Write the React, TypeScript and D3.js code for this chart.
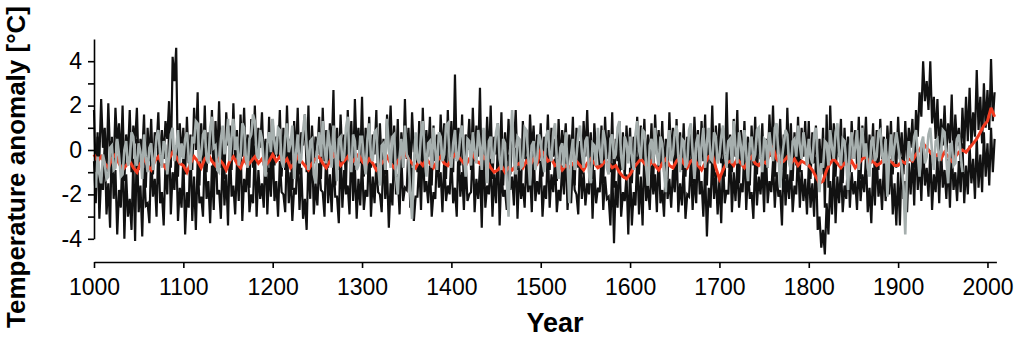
import React, { useEffect, useRef } from "react";
import * as d3 from "d3";

// black and grey series: one value every 2 years from 1000
// red mean curve: one value every 4 years from 1000
const startYear = 1000;
const stepFine = 2;
const stepRed = 4;

// black reconstruction swinging between the upper spikes and the core
const blackA = [
  1.8, -1.3, 0.6, -0.4, 2.3, 0.1, 1.0, -1.0, 2.1, -0.2, 0.4, -0.8, 1.9, 0.2, 1.2, -0.6, 2.0, -1.4, 0.7, -0.3, 1.8, -1.0, 1.1, 0.3, 1.9, -0.9, 0.5, -0.2, 1.6, -1.7, 1.0, -0.5, 1.4, -1.1, 0.8, 0.1, 1.7, -0.7, 0.9, -0.4, 1.3, 0.5, 2.2, -0.8, 4.2, 3.1, 4.6, -1.2, 1.2, -0.3,
  1.0, -1.1, 1.5, -0.6, 0.7, -0.9, 1.9, 0.0, 2.6, -1.6, 1.2, -0.7, 2.0, -1.0, 0.8, -0.2, 1.8, -1.5, 1.3, -0.4, 2.2, -0.8, 0.6, -1.3, 1.7, 0.2, 1.1, -0.9, 2.1, -0.5, 0.9, -1.4, 1.6, -0.3, 1.9, -0.6, 0.7, -1.7, 1.4, -0.8, 2.0, -0.6, 1.0, 0.1, 1.7, -0.7, 0.5, -1.0, 1.5, -1.6,
  1.4, -0.7, 0.6, -0.3, 1.8, -1.2, 1.0, -0.9, 2.0, -0.6, 0.5, -1.8, 1.3, -0.4, 1.9, -1.1, 0.8, 0.2, 1.6, -1.0, 2.0, -1.5, 1.1, -0.6, 0.6, -0.2, 1.5, -1.3, 1.9, -0.5, 0.9, -0.8, 1.2, -0.1, 2.7, -1.6, 1.0, -0.9, 1.6, -0.5, 0.7, -1.7, 1.8, -0.3, 1.3, -1.1, 2.3, 0.0, 1.0, -0.6,
  2.4, -1.2, 1.0, -0.5, 1.5, -0.8, 0.7, -0.2, 1.8, -1.5, 1.2, -0.7, 0.5, -1.1, 1.6, 0.2, 2.0, -0.6, 1.1, -0.9, 1.4, -1.8, 0.8, -0.8, 2.3, -0.4, 1.0, -1.2, 1.7, -0.1, 0.6, -1.0, 1.3, -1.4, 1.9, -0.6, 0.9, -0.3, 1.5, -1.6, 1.1, -0.5, 0.7, -1.0, 1.6, -0.2, 1.2, -1.3, 1.8, -0.7,
  1.3, -1.0, 3.4, -0.4, 1.0, -0.7, 1.6, -1.8, 0.7, 0.0, 1.4, -0.9, 1.9, -0.5, 1.1, -0.3, 2.8, -1.5, 0.9, -0.8, 1.5, -0.6, 2.0, -1.3, 0.6, -0.2, 1.2, -0.7, 1.7, -1.6, 0.8, -0.5, 1.4, -1.1, 1.0, 0.1, 1.8, -0.9, 0.5, -1.7, 1.3, -0.4, 0.9, -1.2, 1.6, -0.1, 1.1, -0.8, 0.7, -0.6,
  1.2, -1.2, 0.6, -0.4, 1.6, -0.9, 1.0, -0.3, 0.5, -1.4, 1.4, -0.7, 0.9, 0.0, 1.2, -1.0, 0.7, -0.5, 1.5, -1.6, 1.0, -0.8, 0.4, -1.1, 1.3, -0.3, 1.8, -0.6, 0.8, -1.3, 1.2, -0.2, 0.6, -0.8, 1.1, -1.5, 1.5, -0.4, 0.9, -1.0, 1.7, -1.7, 0.5, -0.5, 1.3, -0.9, 0.8, -1.3, 1.1, -0.5,
  1.0, -1.5, 0.6, -0.6, 1.5, -1.1, 1.1, -0.4, 1.4, -0.9, 0.7, -0.5, 1.2, -1.4, 1.6, -0.2, 0.9, -0.8, 1.3, -1.0, 0.5, -1.3, 1.7, -0.4, 1.0, -1.7, 1.4, -0.6, 0.8, -0.9, 1.2, -1.2, 0.6, -0.7, 1.1, -1.5, 1.5, -0.2, 0.9, -0.9, 1.3, -0.5, 1.6, -1.6, 0.8, -0.6, 2.0, -1.2, 1.1, -0.4,
  1.2, -0.6, 1.0, -1.2, 2.6, -0.8, 0.7, -1.0, 1.4, -0.3, 1.8, -1.5, 0.9, -0.5, 1.3, -0.9, 0.6, -1.6, 1.1, -0.7, 1.5, -1.1, 0.8, -0.4, 1.2, -1.5, 0.5, -0.8, 1.6, -0.3, 2.0, -1.2, 1.0, -0.2, 1.4, -0.9, 0.7, -1.3, 1.9, -0.5, 1.2, -1.4, 0.8, -0.7, 1.5, -1.0, 1.0, -0.3, 1.3, -0.7,
  1.3, -1.3, 0.8, -0.6, 1.1, -1.4, 0.5, -1.1, 1.0, -2.6, 1.6, -1.7, 2.0, -0.5, 1.2, -1.2, 0.7, -0.3, 1.4, -1.5, 1.0, -0.6, 0.6, -1.0, 1.3, -0.4, 0.9, -0.7, 1.5, -1.3, 1.1, -0.2, 1.5, -1.0, 0.7, -0.6, 1.2, -1.5, 0.9, -0.9, 1.4, -0.4, 0.6, -1.4, 1.1, -0.3, 1.3, -1.1, 0.8, -0.8,
  1.5, -0.4, 0.8, -1.1, 1.3, -0.5, 1.0, 0.1, 1.4, -0.8, 1.8, 0.6, 2.6, 1.5, 4.0, 2.2, 3.1, 1.8, 4.0, 1.2, 2.4, 0.5, 2.3, -0.2, 1.4, 0.2, 2.0, -0.1, 1.2, 0.3, 2.5, -0.6, 1.6, 0.2, 1.0, -0.6, 1.9, 0.0, 2.4, 0.4, 2.8, 0.2, 1.7, 0.6, 3.6, 0.9, 2.4, 0.3, 3.0, 1.0,
  2.7, 0.9, 4.1, 1.3, 2.6,
];

// black reconstruction swinging between the core and the lower spikes
const blackB = [
  -0.5, -2.4, 0.8, -3.1, -1.2, -1.8, 0.3, -2.9, -1.5, -3.5, 0.6, -2.2, -0.9, -3.8, -1.8, -2.6, 0.2, -4.0, -1.1, -3.0, -2.2, -3.6, -0.4, -4.1, 0.5, -2.8, -1.6, -3.9, -0.8, -2.5, -2.4, -3.3, -0.2, -2.1, -1.3, -3.0, 0.4, -2.4, -1.9, -3.4, -0.6, -2.0, 0.9, -2.9, -1.0, -1.8, 0.2, -3.2, -1.7, -2.6,
  -0.3, -3.8, -1.9, -2.6, 0.4, -3.2, -1.2, -3.6, -0.5, -2.4, -2.1, -3.0, 0.1, -2.2, -1.4, -3.3, -0.7, -2.7, 0.6, -2.0, -1.8, -3.1, -0.2, -2.5, -1.1, -3.4, 0.3, -2.1, -1.6, -2.9, -0.6, -2.3, 0.5, -3.2, -1.3, -1.9, -0.4, -2.8, -2.0, -2.4, 0.2, -3.0, -0.9, -2.2, -1.5, -2.6, 0.4, -2.9, -0.8, -2.1,
  0.2, -2.3, -1.4, -3.0, -0.5, -1.9, -2.0, -2.8, 0.4, -2.4, -1.0, -3.2, -1.7, -2.0, 0.1, -2.7, -0.8, -3.1, -2.2, -3.6, -0.3, -2.2, 0.5, -2.9, -1.5, -2.5, -0.6, -1.8, -1.9, -3.0, 0.3, -2.4, -1.1, -2.8, -0.4, -2.1, -2.1, -3.3, 0.2, -2.6, -0.9, -2.0, -1.6, -2.9, 0.4, -2.3, -0.7, -3.1, -1.3, -2.5,
  -0.4, -2.7, -1.8, -2.1, 0.3, -3.0, -1.2, -2.4, -0.6, -1.9, -2.0, -2.8, 0.1, -2.2, -0.9, -3.5, -1.5, -2.5, 0.4, -2.0, -1.1, -2.9, -0.3, -2.3, -1.7, -1.8, 0.2, -2.6, -0.8, -3.2, -2.1, -2.1, -0.5, -2.7, 0.3, -1.9, -1.4, -2.4, -0.7, -3.0, -1.9, -2.2, 0.0, -1.7, -1.0, -2.8, -0.4, -2.3, -1.6, -2.0,
  -0.3, -2.4, -1.7, -3.0, 0.4, -2.1, -1.0, -2.7, -0.5, -2.3, -2.0, -1.9, 0.2, -2.8, -1.3, -2.2, -0.7, -3.5, 0.3, -2.6, -1.6, -2.0, -0.4, -3.0, -1.1, -2.4, 0.5, -3.4, -0.9, -2.1, -1.8, -2.7, -0.2, -1.8, -1.2, -2.5, 0.1, -3.1, -0.8, -2.2, -1.5, -2.6, -0.3, -1.9, -1.0, -2.8, 0.2, -2.3, -1.4, -2.0,
  -0.5, -3.0, -1.6, -2.2, 0.1, -2.6, -1.1, -1.9, -0.4, -2.8, -1.8, -2.3, -0.7, -2.0, 0.2, -2.7, -1.3, -2.4, -0.6, -1.8, -2.0, -2.9, -0.2, -2.2, -1.0, -2.5, -1.5, -2.0, 0.0, -3.1, -0.9, -2.4, -1.7, -1.9, -0.3, -2.7, -1.2, -2.2, -2.1, -3.4, -0.6, -4.2, -1.4, -2.6, 0.0, -3.0, -1.9, -2.3, -1.1, -3.8,
  -0.8, -3.4, -1.9, -2.5, -0.3, -2.9, -1.2, -3.4, 0.1, -2.3, -1.6, -2.7, -0.7, -2.0, -1.1, -2.8, 0.0, -2.4, -1.8, -3.0, -0.5, -2.2, -1.3, -2.6, -0.9, -1.9, 0.2, -2.8, -1.5, -2.5, -0.6, -3.1, -2.0, -2.1, -0.4, -2.7, -1.1, -2.4, 0.0, -2.0, -1.4, -3.0, -0.8, -3.9, -1.7, -2.6, -0.2, -2.2, -1.0, -2.9,
  -1.3, -3.3, -0.4, -2.4, -1.8, -2.0, 0.0, -2.8, -1.0, -2.3, -0.6, -2.6, -1.5, -1.9, 0.2, -2.7, -0.9, -2.2, -1.9, -3.1, -0.3, -2.5, -1.2, -2.0, -0.7, -2.8, 0.1, -2.4, -1.4, -1.9, -0.5, -2.6, -1.0, -2.1, -1.8, -3.4, -0.2, -2.5, -1.1, -2.2, -0.6, -2.8, -1.6, -2.0, 0.0, -2.6, -0.9, -2.3, -1.3, -2.9,
  -0.7, -2.6, -1.5, -3.0, -0.3, -3.6, -3.0, -4.4, -3.6, -4.7, -2.4, -3.8, -1.4, -2.9, -0.4, -3.3, -1.2, -2.4, -0.7, -2.8, -1.6, -2.2, -0.2, -2.6, -1.0, -2.0, -1.4, -2.7, -0.5, -2.3, -1.1, -1.9, -0.3, -2.8, -1.7, -3.3, -0.8, -2.5, -0.2, -2.1, -1.3, -2.7, -0.6, -2.3, -1.0, -2.0, -0.4, -2.9, -1.5, -3.4,
  -1.0, -3.4, -0.3, -2.2, -1.4, -2.8, -0.6, -2.0, -0.2, -2.5, 0.5, -1.8, -0.4, -2.3, 0.3, -1.6, -0.8, -2.1, 0.0, -2.7, -1.1, -1.9, -0.3, -2.4, 0.2, -1.7, -0.9, -2.2, -0.4, -2.6, 0.1, -1.8, -1.0, -2.3, -0.5, -1.9, 0.3, -2.4, -0.7, -2.0, 0.2, -1.5, -0.4, -2.2, 0.6, -1.7, -0.2, -1.9, 0.8, -1.2,
  0.3, -1.6, 1.0, -1.0, 0.5,
];

// grey reconstruction (ends 1972)
const grey = [
  -1.0, -1.7, -0.3, -1.1, -1.5, -0.2, -0.6, -1.3, -1.2, 0.1, 0.2, -0.9, -0.8, 0.5, -0.2, -1.2, -1.1, 0.0, 0.4, -0.7, -0.5, 0.8, 0.6, -0.4, -0.7, 0.3, -0.1, -1.3, 0.7, -0.3, -1.0, 0.1, 0.3, -0.9, -0.4, 0.6, 0.9, -0.2, -0.8, 0.4, 0.2, -1.1, -0.3, 0.7, 1.0, -0.5, 0.1, 0.9, -0.6, 0.3,
  -0.4, 0.5, 0.8, -0.3, -0.9, 0.6, 0.3, 1.3, 1.2, -0.5, -0.2, 0.7, 0.9, -0.4, -0.6, 1.0, 1.5, 0.1, 0.2, -0.9, -1.0, 0.5, 1.1, -0.2, 0.4, 1.4, -0.5, 0.6, 1.4, 0.0, 0.6, -0.7, -0.3, 1.2, 1.0, -0.4, -0.8, 0.5, 0.7, 1.6, 1.3, -0.2, -0.4, 0.9, 0.5, -0.6, -1.2, 0.3, 0.8, -0.1,
  1.4, 0.3, -0.2, 1.0, 0.9, -0.5, -0.8, 0.6, 1.2, -0.1, 0.3, 1.1, -1.3, -0.2, 0.7, -0.6, -0.4, 0.9, 1.6, 0.2, -0.9, 0.4, 0.5, -1.1, -1.5, 0.2, 0.8, -0.3, 1.3, 0.1, -0.6, 0.9, 0.2, -0.8, 1.1, 0.0, -1.4, 0.5, 0.6, -0.5, -0.3, 1.0, 1.5, -0.4, -1.0, 0.7, 0.4, -0.9, -0.7, 0.6,
  0.6, -0.4, -1.1, 0.5, 1.2, -0.3, -0.5, 0.8, 0.9, -0.7, -1.6, 0.2, 0.3, -0.9, 1.4, 0.1, -0.8, 0.6, 0.7, -1.2, -2.0, -0.3, 0.5, -0.8, 1.1, -0.2, -0.4, -1.9, -3.1, -0.6, 0.8, -0.4, -0.6, 0.7, 1.3, -0.1, -1.2, 0.3, 0.4, -0.8, 1.0, 0.0, -0.9, 0.8, 0.6, -0.5, -0.2, 1.1, 1.2, -0.3,
  -0.8, 0.3, 0.9, -0.5, -0.3, 0.7, 1.1, -0.2, -1.2, 0.5, 0.4, -0.7, 0.8, -0.1, -0.6, 0.9, 0.2, -0.9, 1.0, 0.0, -1.5, 0.4, 0.6, -0.6, -0.2, 0.8, 1.2, -0.4, -0.9, 0.5, 0.3, -1.4, -3.0, 0.2, 1.8, -0.5, -1.1, 0.6, 0.5, -0.8, -0.7, 1.0, 0.9, -0.3, -1.6, 0.2, 0.4, -0.9, -0.4, 0.7,
  0.4, -0.5, -1.0, 0.6, 0.9, -0.2, -0.5, 0.8, 1.2, -0.4, -1.3, 0.1, 0.3, -0.8, 0.8, -0.6, -2.4, -0.2, 0.5, -0.9, -0.3, 0.7, 1.1, -0.1, -0.8, 0.4, 0.6, -1.0, -1.5, 0.3, 0.2, -0.7, 1.0, 0.0, -0.6, 0.9, 0.4, -0.8, -1.1, 0.5, 0.7, -0.4, -0.2, 1.0, 1.3, -0.3, -0.9, 0.6, 0.3, -0.6,
  0.6, -0.3, -0.9, 0.7, 1.3, 0.0, -0.4, 0.9, 0.8, -0.8, -1.6, 0.2, 0.5, -0.6, 1.0, -0.2, -0.7, 0.6, 0.3, -1.0, -1.9, 0.1, 0.9, -0.5, -0.2, 0.8, 1.1, -0.3, -1.0, 0.5, 0.4, -0.8, -0.6, 0.9, 1.2, -0.1, -1.3, 0.3, 0.7, -0.7, 0.2, 1.0, -0.8, 0.4, 1.0, -0.4, -0.5, 0.8, 0.6, -0.6,
  -0.3, 0.6, 1.1, -0.2, -0.8, 0.4, 0.5, -0.6, 1.3, 0.1, -0.6, 0.8, 0.2, -0.7, 0.9, -0.1, -1.4, 0.3, 0.6, -0.5, -0.2, 0.9, 1.0, -0.3, -1.0, 0.5, 0.4, -0.8, 0.8, 0.0, -0.5, 1.0, 1.2, -0.2, -1.7, -0.4, 0.3, 0.9, 0.7, -0.6, -0.9, 0.4, 0.5, -0.3, 1.1, 0.2, -0.4, 0.8, 0.2, -0.7,
  0.5, -0.3, -0.6, 0.7, 1.0, -0.5, -1.9, -0.6, -0.8, 0.4, 0.3, -0.7, 0.9, 0.1, -0.4, 0.8, 1.2, -0.2, -0.7, 0.5, 0.4, -0.6, -1.8, 0.2, 0.8, -0.4, 0.1, 0.9, -0.9, 0.3, 1.0, -0.3, 0.3, -0.8, -1.2, 0.4, 0.6, -0.5, -0.3, 0.8, 0.9, -0.2, -0.6, 0.5, -2.1, -0.4, 0.7, -0.5, 0.2, 0.8,
  0.2, -0.4, -0.7, -1.6, -3.8, -0.8, 0.4, -0.3, -0.5, 0.6, 0.9, -0.2, -1.2, 0.3, 0.6, -0.6, -0.3, 0.7, 1.0, -0.1, -0.9, 0.4, 0.5, -0.5, -0.1, 0.9, 0.8, -0.4, -1.5, 0.2, 0.3, -0.7, -0.6, 0.5, 0.7, -0.2, -1.0,
];

// red mean curve
const red = [
  -0.2, -0.5, -0.3, -0.6, -0.8, -0.4, -0.2, -0.6, -0.9, -0.7, -0.5, -0.8, -1.0, -0.6, -0.4, -0.7, -0.9, -0.5, -0.3, -0.6, -0.8, -0.4, -0.1, -0.3, -0.6,
  -0.7, -1.0, -0.6, -0.3, -0.5, -0.8, -0.4, -0.2, -0.5, -0.7, -0.4, -0.6, -0.9, -0.5, -0.3, -0.6, -0.8, -0.4, -0.7, -0.5, -0.3, -0.6, -0.4, -0.7, -0.5,
  -0.2, -0.5, -0.3, -0.6, -0.4, -0.8, -0.6, -0.3, -0.5, -0.7, -0.9, -0.6, -0.4, -0.3, -0.6, -0.8, -0.5, -0.2, -0.4, -0.7, -0.5, -0.3, -0.6, -0.4, -0.2,
  -0.5, -0.7, -0.4, -0.6, -0.9, -0.7, -0.5, -0.3, -0.6, -0.8, -0.5, -0.3, -0.1, -0.4, -0.6, -0.8, -0.5, -0.7, -0.4, -0.6, -0.8, -0.5, -0.3, -0.6, -0.7,
  -0.4, -0.2, -0.3, -0.5, -0.7, -0.4, -0.2, -0.5, -0.6, -0.3, -0.5, -0.8, -1.0, -0.9, -0.7, -1.0, -0.8, -0.9, -0.7, -0.6, -0.8, -0.5, -0.7, -0.4, -0.6,
  0.0, -0.2, -0.5, -0.4, -0.7, -0.6, -0.9, -0.7, -0.8, -0.6, -0.5, -0.7, -0.9, -0.6, -0.4, -0.6, -0.8, -0.7, -0.5, -0.6, -0.8, -0.7, -1.0, -1.2, -1.3,
  -1.1, -0.8, -0.6, -0.4, -0.6, -0.8, -0.5, -0.7, -0.9, -0.6, -0.4, -0.7, -0.8, -0.5, -0.3, -0.6, -0.8, -0.5, -0.4, -0.7, -0.9, -0.6, -0.3, -0.2, -0.8,
  -1.3, -0.9, -0.6, -0.5, -0.7, -0.4, -0.6, -0.8, -0.5, -0.3, -0.6, -0.7, -0.5, -0.6, -0.2, 0.1, -0.4, -0.6, -0.5, -0.3, -0.6, -0.4, -0.7, -0.5, -0.6,
  -0.7, -0.9, -1.2, -1.5, -1.4, -0.9, -0.6, -0.4, -0.6, -0.8, -0.6, -0.7, -0.5, -0.8, -0.6, -0.4, -0.3, -0.6, -0.5, -0.7, -0.6, -0.4, -0.6, -0.5, -0.7,
  -0.7, -0.5, -0.6, -0.4, -0.5, -0.2, 0.0, 0.3, 0.1, -0.1, -0.3, -0.2, -0.4, -0.1, -0.3, -0.5, -0.3, -0.1, 0.0, -0.1, 0.1, 0.3, 0.5, 0.8, 1.1,
  1.3, 1.9, 1.5,
];

const xTicks = [1000, 1100, 1200, 1300, 1400, 1500, 1600, 1700, 1800, 1900, 2000];
const yTicks = [-4, -3, -2, -1, 0, 1, 2, 3, 4];

const W = 1024;
const H = 344;
const FONT = "'Liberation Sans', Arial, sans-serif";

export default function App() {
  const xAxisRef = useRef<SVGGElement>(null);
  const yAxisRef = useRef<SVGGElement>(null);

  const x = d3.scaleLinear().domain([1000, 2010]).range([94, 996.4]);
  const y = d3.scaleLinear().domain([-4, 5]).range([238.8, 39]);

  const makeLine = (step: number) =>
    d3
      .line<number>()
      .x((d, i) => x(startYear + i * step))
      .y((d) => y(d));
  const fineLine = makeLine(stepFine);
  const redLine = makeLine(stepRed);

  useEffect(() => {
    const xa = d3.select(xAxisRef.current!);
    xa.call(
      d3.axisBottom(x).tickValues(xTicks).tickFormat(d3.format("d")).tickSize(6).tickSizeOuter(0).tickPadding(11)
    );
    xa.selectAll("path, line").attr("stroke", "#000").attr("stroke-width", 1.6);
    xa.selectAll("text").attr("font-size", 23).attr("font-family", FONT).attr("fill", "#000");

    const ya = d3.select(yAxisRef.current!);
    ya.call(
      d3
        .axisLeft(y)
        .tickValues(yTicks)
        .tickFormat((d) => ((d as number) % 2 === 0 ? String(d) : ""))
        .tickSize(6)
        .tickSizeOuter(0)
        .tickPadding(6)
    );
    ya.selectAll("path, line").attr("stroke", "#000").attr("stroke-width", 1.6);
    ya.selectAll("text").attr("font-size", 23).attr("font-family", FONT).attr("fill", "#000");
  }, []);

  return (
    <svg
      width={W}
      height={H}
      style={{ position: "absolute", left: 0, top: 0, background: "#fff" }}
    >
      <g fill="none" strokeLinejoin="miter" strokeMiterlimit={3}>
        <path d={fineLine(blackB) ?? ""} stroke="#111" strokeWidth={2.2} />
        <path d={fineLine(blackA) ?? ""} stroke="#111" strokeWidth={2.2} />
        <path d={redLine(red) ?? ""} stroke="#f23a1f" strokeWidth={3} />
        <path d={fineLine(grey) ?? ""} stroke="#a6afae" strokeWidth={2.6} />
      </g>
      <g ref={yAxisRef} transform="translate(94,0)" />
      <g ref={xAxisRef} transform="translate(0,262)" />
      <text
        transform="translate(25,167) rotate(-90)"
        textAnchor="middle"
        fontFamily={FONT}
        fontWeight="bold"
        fontSize={26}
      >
        Temperature anomaly [°C]
      </text>
      <text x={555} y={332} textAnchor="middle" fontFamily={FONT} fontWeight="bold" fontSize={27}>
        Year
      </text>
    </svg>
  );
}
